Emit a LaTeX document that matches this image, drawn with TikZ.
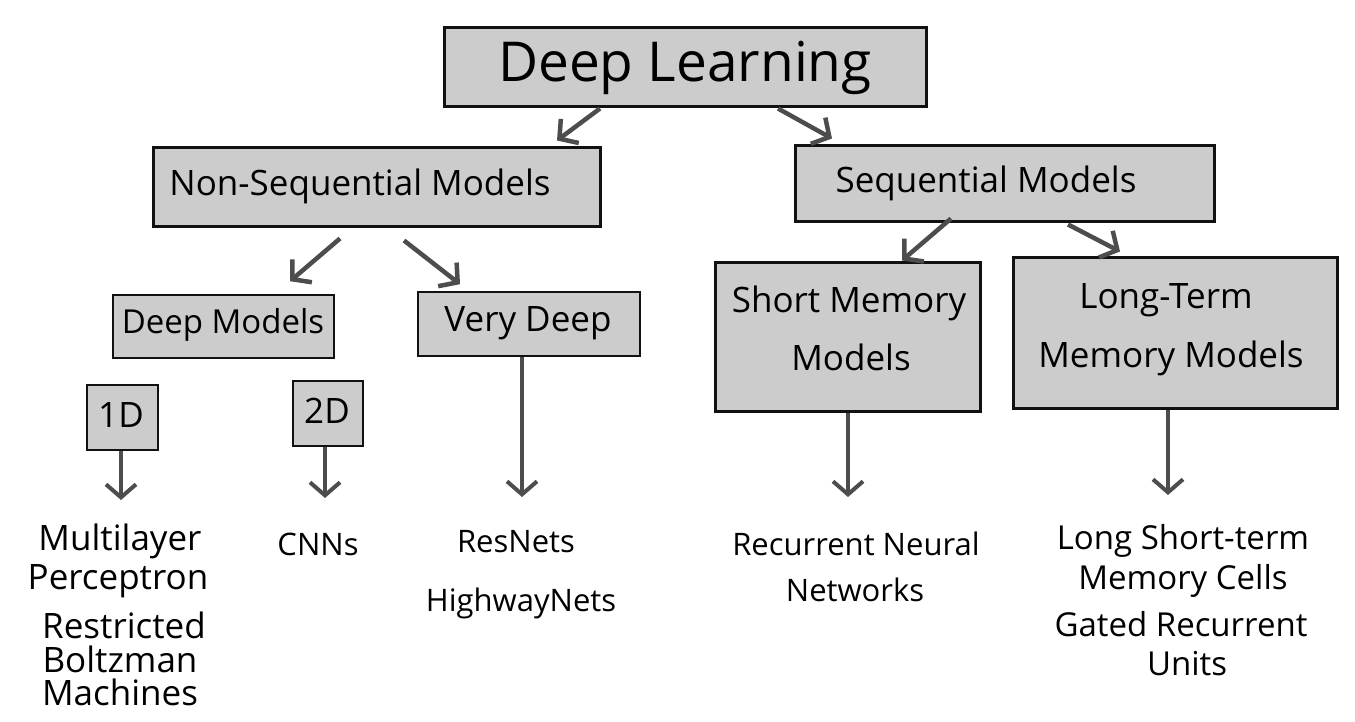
\documentclass[tikz,border=0pt]{standalone}
\usepackage{fontspec}
\setmainfont{Open Sans}
\usetikzlibrary{arrows.meta}
\definecolor{boxfill}{HTML}{CCCCCC}
\definecolor{arrowc}{HTML}{4D4D4D}
\definecolor{edge}{HTML}{111111}
\tikzset{
 bigbox/.style={draw=edge, fill=boxfill, line width=3pt, inner sep=0pt},
 smallbox/.style={draw=edge, fill=boxfill, line width=1.6pt, inner sep=0pt},
 arr/.style={draw=arrowc, line width=4.5pt, -{Straight Barb[length=13pt,width=30pt]}},
 lbl/.style={font=\fontsize{35}{42}\selectfont, inner sep=0pt, text=black},
 leaf/.style={font=\fontsize{31}{38}\selectfont, inner sep=0pt, text=black},
 bigleaf/.style={leaf, font=\fontsize{35}{40}\selectfont},
}
\begin{document}
\begin{tikzpicture}[x=1pt,y=-1pt]
\useasboundingbox[fill=white] (0,0) rectangle (1355,722);

% boxes
\node[bigbox, minimum width=482pt, minimum height=79pt] (dl) at (685,67.5) {};
\node[bigbox, minimum width=447pt, minimum height=79pt] (nsm) at (376.5,187.5) {};
\node[bigbox, minimum width=419pt, minimum height=76pt] (sm) at (1004.5,184) {};
\node[smallbox, minimum width=221pt, minimum height=63pt] (dm) at (223.5,326.5) {};
\node[smallbox, minimum width=222pt, minimum height=64pt] (vd) at (529,324) {};
\node[bigbox, minimum width=265pt, minimum height=148pt] (smm) at (847.5,337) {};
\node[bigbox, minimum width=324pt, minimum height=150pt] (ltm) at (1175,333) {};
\node[smallbox, minimum width=71pt, minimum height=65pt] (d1) at (122.5,417.5) {};
\node[smallbox, minimum width=70pt, minimum height=65pt] (d2) at (328,413.5) {};

% box texts
\node[lbl, font=\fontsize{55}{60}\selectfont] (dlt) at (685,68) {Deep Learning};
\node[lbl] (nsmt) at (360,186) {Non-Sequential Models};
\node[lbl] (smt) at (986,183) {Sequential Models};
\node[lbl, font=\fontsize{33}{40}\selectfont] (dmt) at (223,325) {Deep Models};
\node[lbl] (vdt) at (528,323) {Very Deep};
\node[lbl] (smmt1) at (849,303) {Short Memory};
\node[lbl] (smmt2) at (851,357) {Models};
\node[lbl] (ltmt1) at (1166,300) {Long-Term};
\node[lbl] (ltmt2) at (1171,358) {Memory Models};
\node[lbl] (d1t) at (121,415) {1D};
\node[lbl] (d2t) at (327,411) {2D};

% leaf texts
\node[bigleaf] (mlp1) at (120,541) {Multilayer};
\node[bigleaf] (mlp2) at (118,581) {Perceptron};
\node[bigleaf] (rbm1) at (124,625) {Restricted};
\node[bigleaf] (rbm2) at (120,659) {Boltzman};
\node[bigleaf] (rbm3) at (120,692) {Machines};
\node[leaf] (cnn) at (318,544) {CNNs};
\node[leaf] (res) at (516,542) {ResNets};
\node[leaf] (hwy) at (521,603) {HighwayNets};
\node[leaf] (rnn1) at (856,544) {Recurrent Neural};
\node[leaf] (rnn2) at (855,590) {Networks};
\node[leaf, font=\fontsize{33}{38}\selectfont] (lstm1) at (1183,541) {Long Short-term};
\node[leaf, font=\fontsize{33}{38}\selectfont] (lstm2) at (1183,581) {Memory Cells};
\node[leaf, font=\fontsize{33}{38}\selectfont] (gru1) at (1181,624) {Gated Recurrent};
\node[leaf, font=\fontsize{33}{38}\selectfont] (gru2) at (1187,664) {Units};

% free ends
\coordinate (e1) at (121,500);
\coordinate (e2) at (325,498);
\coordinate (e3) at (522,497);
\coordinate (e4) at (848,497);
\coordinate (e5) at (1168,495);

% diagonal arrows
\draw[arr] ([xshift=-85pt]dl.south) -- ([xshift=180.5pt,yshift=6pt]nsm.north);
\draw[arr] ([xshift=93pt]dl.south) -- ([xshift=-172.5pt,yshift=6pt]sm.north);
\draw[arr] ([xshift=-36.5pt,yshift=-10pt]nsm.south) -- ([xshift=66.5pt,yshift=13pt]dm.north);
\draw[arr] ([xshift=27.5pt,yshift=-12pt]nsm.south) -- ([xshift=-69pt,yshift=7pt]vd.north);
\draw[arr] ([xshift=-53.5pt,yshift=5pt]sm.south) -- ([xshift=54.5pt,yshift=1pt]smm.north);
\draw[arr] ([xshift=63.5pt,yshift=-1pt]sm.south) -- ([xshift=-55pt,yshift=5pt]ltm.north);

% vertical arrows
\draw[arr, line width=4pt] (d1.south -| e1) -- (e1);
\draw[arr, line width=4pt] (d2.south -| e2) -- (e2);
\draw[arr, line width=4pt] (vd.south -| e3) -- (e3);
\draw[arr, line width=4pt] (smm.south -| e4) -- (e4);
\draw[arr, line width=4pt] (ltm.south -| e5) -- (e5);
\end{tikzpicture}
\end{document}
